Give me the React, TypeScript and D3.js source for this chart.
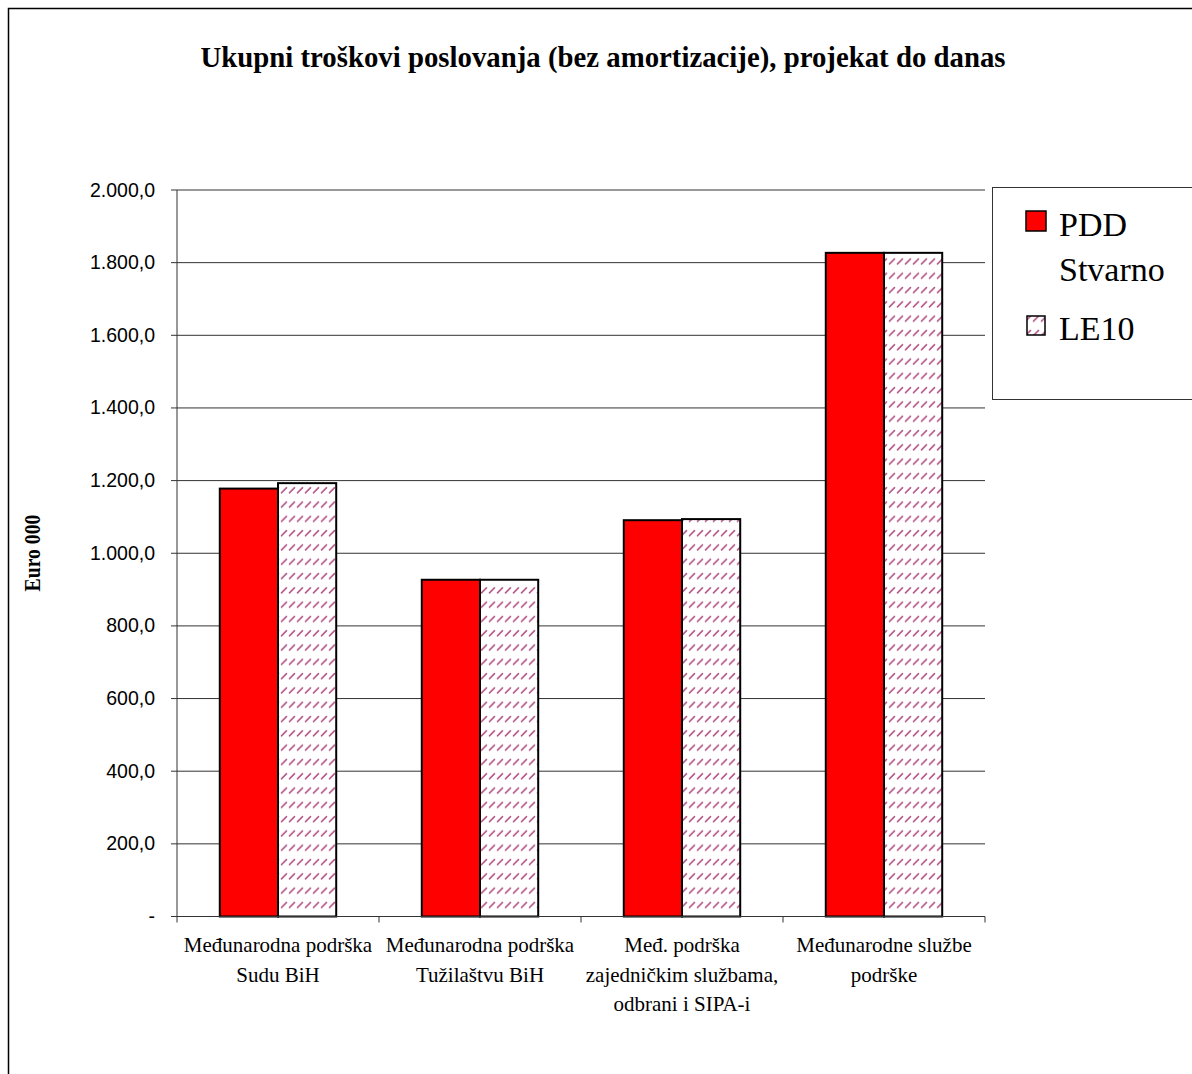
import React from "react";
import * as d3 from "d3";

const categories: string[][] = [
  ["Međunarodna podrška", "Sudu BiH"],
  ["Međunarodna podrška", "Tužilaštvu BiH"],
  ["Međ. podrška", "zajedničkim službama,", "odbrani i SIPA-i"],
  ["Međunarodne službe", "podrške"],
];
const seriesNames = ["PDD Stvarno", "LE10"];
const pddStvarno = [1178, 927, 1091, 1827];
const le10 = [1193, 927, 1094, 1827];
const yTicks = [0, 200, 400, 600, 800, 1000, 1200, 1400, 1600, 1800, 2000];

const W = 1192;
const H = 1074;
const plot = { left: 177, right: 985, top: 190, bottom: 916.5 };

const fmt = (v: number) => {
  if (v === 0) return "-";
  const s = d3.format(",.1f")(v);
  return s.replace(/,/g, "#").replace(".", ",").replace(/#/g, ".");
};

export default function App() {
  const keys = categories.map((_, i) => String(i));
  const x = d3.scaleBand<string>().domain(keys).range([plot.left, plot.right]).paddingInner(0).paddingOuter(0);
  const xs = d3.scaleBand<string>().domain(seriesNames).range([0, x.bandwidth()]).paddingInner(0).paddingOuter(0.735);
  const y = d3.scaleLinear().domain([0, 2000]).range([plot.bottom, plot.top]);
  const values = [pddStvarno, le10];
  const fills = ["#ff0000", "url(#hatch)"];

  return (
    <svg width={W} height={H} style={{ position: "absolute", left: 0, top: 0, display: "block" }}>
      <defs>
        <pattern id="hatch" patternUnits="userSpaceOnUse" width={8} height={14.3} x={0} y={0}>
          <rect width={8} height={14.3} fill="#ffffff" />
          <line x1={1.5} y1={6.5} x2={6.5} y2={1.5} stroke="#b5578a" strokeWidth={1.6} strokeLinecap="round" />
        </pattern>
      </defs>
      <rect x={0} y={0} width={W} height={H} fill="#ffffff" />
      <rect x={8.5} y={8.5} width={W + 20} height={H + 20} fill="none" stroke="#000" strokeWidth={1.5} />

      <text x={603} y={67} textAnchor="middle" fontFamily="Liberation Serif, Times New Roman, serif" fontWeight="bold" fontSize={29} textLength={805} lengthAdjust="spacingAndGlyphs">
        Ukupni troškovi poslovanja (bez amortizacije), projekat do danas
      </text>

      {yTicks.filter((t) => t > 0).map((t) => (
        <line key={"g" + t} x1={plot.left} x2={plot.right} y1={y(t)} y2={y(t)} stroke="#333" strokeWidth={1} />
      ))}

      {categories.map((_, ci) =>
        values.map((vals, si) => {
          const bx = (x(String(ci)) as number) + (xs(seriesNames[si]) as number);
          return (
            <rect key={ci + "-" + si} x={bx} y={y(vals[ci])} width={xs.bandwidth()} height={y(0) - y(vals[ci])} fill={fills[si]} stroke="#000" strokeWidth={2} />
          );
        })
      )}

      <line x1={plot.left} x2={plot.left} y1={plot.top} y2={plot.bottom} stroke="#333" strokeWidth={1} />
      <line x1={plot.left} x2={plot.right} y1={plot.bottom} y2={plot.bottom} stroke="#333" strokeWidth={1} />
      {yTicks.map((t) => (
        <g key={"t" + t}>
          <line x1={plot.left - 6} x2={plot.left} y1={y(t)} y2={y(t)} stroke="#333" strokeWidth={1} />
          <text x={155} y={y(t) + 6.5} textAnchor="end" fontFamily="Liberation Sans, Arial, sans-serif" fontSize={19.5}>
            {fmt(t)}
          </text>
        </g>
      ))}
      {d3.range(categories.length + 1).map((i) => {
        const xx = plot.left + i * x.step();
        return <line key={"ct" + i} x1={xx} x2={xx} y1={plot.bottom} y2={plot.bottom + 6} stroke="#333" strokeWidth={1} />;
      })}
      {categories.map((lines, ci) => {
        const cx = (x(String(ci)) as number) + x.bandwidth() / 2;
        return (
          <text key={"cl" + ci} textAnchor="middle" fontFamily="Liberation Serif, Times New Roman, serif" fontSize={21}>
            {lines.map((l, li) => (
              <tspan key={li} x={cx} y={952 + li * 29.5}>
                {l}
              </tspan>
            ))}
          </text>
        );
      })}

      <text transform="translate(40,553) rotate(-90)" textAnchor="middle" fontFamily="Liberation Serif, Times New Roman, serif" fontWeight="bold" fontSize={23} textLength={77} lengthAdjust="spacingAndGlyphs">
        Euro 000
      </text>

      <rect x={992.5} y={187.5} width={220} height={212} fill="#fff" stroke="#333" strokeWidth={1} />
      <rect x={1026} y={211} width={20} height={20} fill="#ff0000" stroke="#000" strokeWidth={1.5} />
      <text fontFamily="Liberation Serif, Times New Roman, serif" fontSize={34}>
        <tspan x={1059} y={236}>PDD</tspan>
        <tspan x={1059} y={281}>Stvarno</tspan>
      </text>
      <rect x={1027} y={316} width={18} height={19} fill="url(#hatch)" stroke="#000" strokeWidth={1.5} />
      <text x={1059} y={340} fontFamily="Liberation Serif, Times New Roman, serif" fontSize={34}>
        LE10
      </text>
    </svg>
  );
}
